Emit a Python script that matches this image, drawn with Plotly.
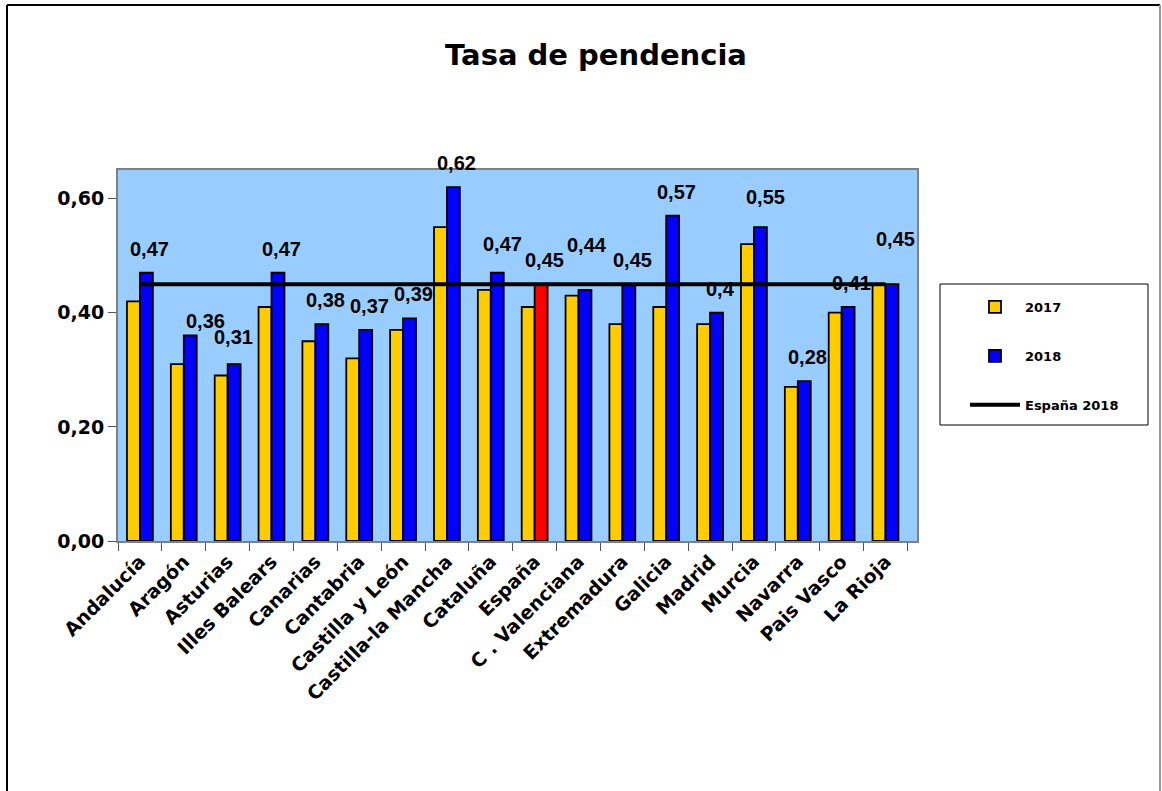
import plotly.graph_objects as go

categories = ["Andalucía", "Aragón", "Asturias", "Illes Balears", "Canarias", "Cantabria",
              "Castilla y León", "Castilla-la Mancha", "Cataluña", "España", "C . Valenciana",
              "Extremadura", "Galicia", "Madrid", "Murcia", "Navarra", "Pais Vasco", "La Rioja"]
v2017 = [0.42, 0.31, 0.29, 0.41, 0.35, 0.32, 0.37, 0.55, 0.44, 0.41, 0.43, 0.38, 0.41, 0.38, 0.52, 0.27, 0.40, 0.45]
v2018 = [0.47, 0.36, 0.31, 0.47, 0.38, 0.37, 0.39, 0.62, 0.47, 0.45, 0.44, 0.45, 0.57, 0.40, 0.55, 0.28, 0.41, 0.45]
espana2018 = [0.45] * len(categories)
labels2018 = ["0,47", "0,36", "0,31", "0,47", "0,38", "0,37", "0,39", "0,62", "0,47", "0,45",
              "0,44", "0,45", "0,57", "0,4", "0,55", "0,28", "0,41", "0,45"]
ytick_vals = [0, 0.2, 0.4, 0.6]
ytick_text = ["0,00", "0,20", "0,40", "0,60"]

colors2018 = ["#FF0000" if c == "España" else "#0000FF" for c in categories]

W, H = 1162, 791
PL, PR, PT, PB = 118, 917, 170, 541   # plot area in page pixels
PW, PH = PR - PL, PB - PT


def px(xp):
    return (xp - PL) / PW


def py(yp):
    return (PB - yp) / PH


fig = go.Figure()
fig.add_trace(go.Bar(x=categories, y=v2017, name="<b>2017</b>", legendgroup="a",
                     marker=dict(color="#FFCC00", line=dict(color="black", width=1.8))))
fig.add_trace(go.Bar(x=categories, y=v2018, name="<b>2018</b>", legendgroup="b",
                     marker=dict(color=colors2018, line=dict(color="black", width=1.8))))
fig.add_trace(go.Scatter(x=categories, y=espana2018, name="<b>España 2018</b>", legendgroup="c",
                         mode="lines", line=dict(color="black", width=4)))

# data labels for 2018
lift = {"Aragón": (14, 12), "Asturias": (-2, 24), "C . Valenciana": (0, 42), "La Rioja": (2, 42),
        "Cataluña": (4, 26), "Murcia": (4, 27)}
for c, v, t in zip(categories, v2018, labels2018):
    dx, dy = lift.get(c, (2, 21))
    fig.add_annotation(x=c, y=v, text="<b>%s</b>" % t, showarrow=False, xshift=8 + dx, yshift=dy + 3,
                       font=dict(family="Liberation Sans, Arial", size=20, color="black"),
                       xanchor="center", yanchor="middle")

# outer border
fig.add_shape(type="line", xref="paper", yref="paper",
              x0=px(7), x1=px(1160), y0=py(5), y1=py(5), line=dict(color="black", width=2))
fig.add_shape(type="line", xref="paper", yref="paper",
              x0=px(7), x1=px(7), y0=py(5), y1=py(800), line=dict(color="black", width=2))
fig.add_shape(type="line", xref="paper", yref="paper",
              x0=px(1160), x1=px(1160), y0=py(5), y1=py(800), line=dict(color="#999999", width=2))
# legend box
fig.add_shape(type="rect", xref="paper", yref="paper",
              x0=px(940), x1=px(1148), y0=py(425), y1=py(284), line=dict(color="black", width=1))

fig.update_layout(
    width=W, height=H,
    margin=dict(l=PL, r=W - PR, t=PT, b=H - PB),
    paper_bgcolor="white", plot_bgcolor="#99CCFF",
    barmode="group", bargap=0.41, bargroupgap=0,
    title=dict(text="<b>Tasa de pendencia</b>", x=596 / W, xanchor="center",
               y=1 - 55 / H, yanchor="middle",
               font=dict(family="DejaVu Sans", size=29, color="black")),
    font=dict(family="DejaVu Sans", color="black"),
    showlegend=True,
    legend=dict(x=px(965), y=py(292), xanchor="left", yanchor="top",
                borderwidth=0, bgcolor="rgba(0,0,0,0)",
                font=dict(family="DejaVu Sans", size=13, color="black"),
                tracegroupgap=29, itemwidth=50,
                traceorder="grouped"),
)
fig.update_xaxes(type="category", tickson="boundaries", ticks="outside", ticklen=8,
                 tickcolor="#555555", tickangle=-45,
                 tickfont=dict(family="DejaVu Sans", size=19, color="black"),
                 showline=True, linecolor="#808080", linewidth=2, mirror=True,
                 showgrid=False,
                 tickvals=categories, ticktext=["<b>%s</b>" % c for c in categories])
fig.update_yaxes(range=[0, 0.65], tickvals=ytick_vals, ticktext=["<b>%s</b>" % t for t in ytick_text],
                 ticks="outside", ticklen=8, tickcolor="#555555",
                 tickfont=dict(family="DejaVu Sans", size=19, color="black"),
                 showline=True, linecolor="#808080", linewidth=2, mirror=True,
                 showgrid=False, zeroline=False)

fig.write_html("out.html", config={"displayModeBar": False},
               post_script="document.body.style.margin='0px';document.body.style.overflow='hidden';")
